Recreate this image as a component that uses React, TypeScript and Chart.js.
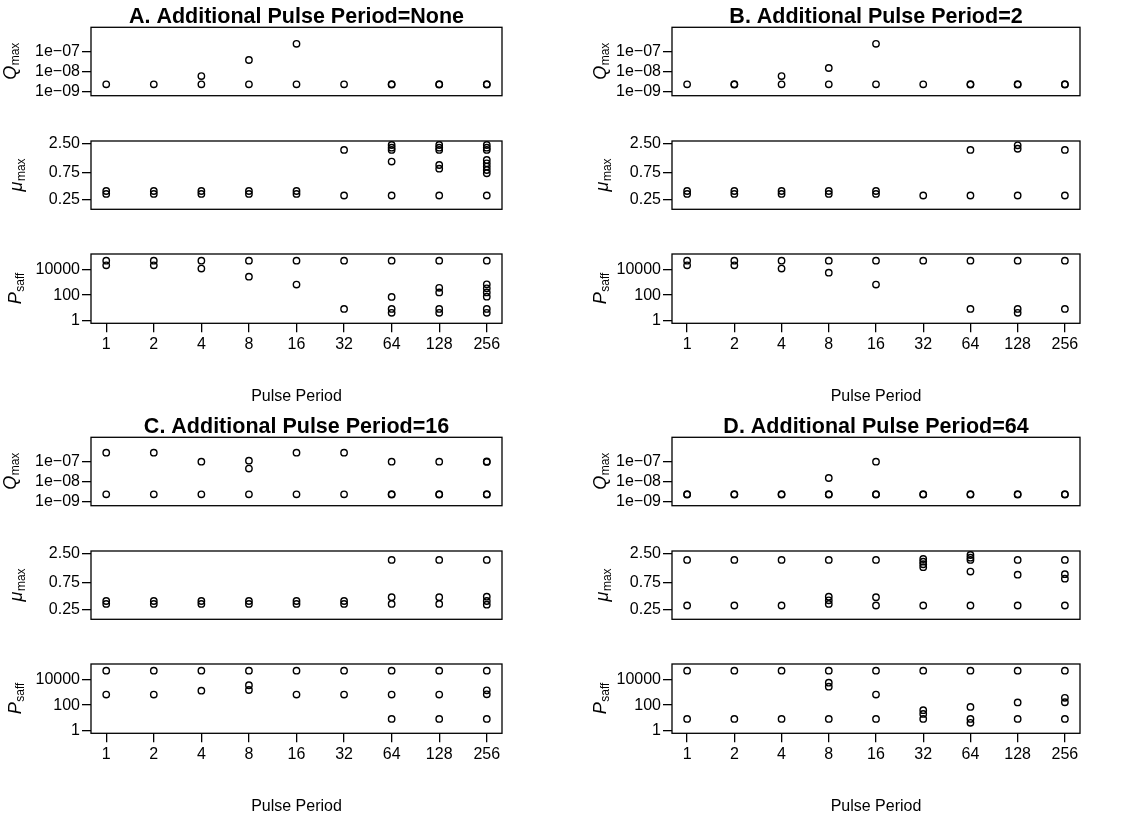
import React, { useEffect, useRef } from "react";
import { Chart, registerables } from "chart.js";

Chart.register(...registerables);

const FONT = "'Liberation Sans', Arial, Helvetica, sans-serif";

// ---- categories / ticks ----
const periods = [1, 2, 4, 8, 16, 32, 64, 128, 256];
const periodLabels = ["1", "2", "4", "8", "16", "32", "64", "128", "256"];
const qTicks = [1e-9, 1e-8, 1e-7];
const qTickLabels = ["1e\u221209", "1e\u221208", "1e\u221207"];
const muTicks = [0.25, 0.75, 2.5];
const muTickLabels = ["0.25", "0.75", "2.50"];
const pTicks = [1, 100, 10000];
const pTickLabels = ["1", "100", "10000"];
const panelTitles = [
  "A. Additional Pulse Period=None",
  "B. Additional Pulse Period=2",
  "C. Additional Pulse Period=16",
  "D. Additional Pulse Period=64",
];
const xTitle = "Pulse Period";

// ---- values (one list per pulse period) ----
const qA = [[2.25e-9], [2.25e-9], [2.25e-9, 5.9e-9], [2.25e-9, 3.8e-8], [2.25e-9, 2.5e-7], [2.25e-9], [2.2e-9, 2.3e-9], [2.2e-9, 2.3e-9], [2.2e-9, 2.3e-9]];
const qB = [[2.25e-9], [2.2e-9, 2.3e-9], [2.25e-9, 5.9e-9], [2.25e-9, 1.5e-8], [2.25e-9, 2.5e-7], [2.25e-9], [2.2e-9, 2.3e-9], [2.2e-9, 2.3e-9], [2.2e-9, 2.3e-9]];
const qC = [[2.25e-9, 2.85e-7], [2.25e-9, 2.85e-7], [2.25e-9, 1.0e-7], [2.25e-9, 4.5e-8, 1.12e-7], [2.25e-9, 2.85e-7], [2.25e-9, 2.85e-7], [2.2e-9, 2.3e-9, 1.0e-7], [2.2e-9, 2.3e-9, 1.0e-7], [2.2e-9, 2.3e-9, 0.97e-7, 1.03e-7]];
const qD = [[2.2e-9, 2.3e-9], [2.2e-9, 2.3e-9], [2.2e-9, 2.3e-9], [2.2e-9, 2.3e-9, 1.5e-8], [2.2e-9, 2.3e-9, 1.0e-7], [2.2e-9, 2.3e-9], [2.2e-9, 2.3e-9], [2.2e-9, 2.3e-9], [2.2e-9, 2.3e-9]];

const muA = [[0.32, 0.36], [0.32, 0.36], [0.32, 0.36], [0.32, 0.36], [0.32, 0.36], [0.3, 1.91], [0.3, 1.19, 1.91, 2.09, 2.33], [0.3, 0.893, 1.035, 1.91, 2.09, 2.33], [0.3, 0.74, 0.845, 0.97, 1.11, 1.27, 1.91, 2.09, 2.33]];
const muB = [[0.32, 0.36], [0.32, 0.36], [0.32, 0.36], [0.32, 0.36], [0.32, 0.36], [0.3], [0.3, 1.91], [0.3, 2.0, 2.3], [0.3, 1.91]];
const muC = [[0.32, 0.36], [0.32, 0.36], [0.32, 0.36], [0.32, 0.36], [0.32, 0.36], [0.32, 0.36], [0.32, 0.42, 1.91], [0.32, 0.42, 1.91], [0.31, 0.36, 0.43, 1.91]];
const muD = [[0.3, 1.91], [0.3, 1.91], [0.3, 1.91], [0.32, 0.37, 0.43, 1.91], [0.3, 0.42, 1.91], [0.3, 1.42, 1.6, 1.78, 1.98], [0.3, 1.19, 1.91, 2.09, 2.33], [0.3, 1.05, 1.91], [0.3, 0.89, 1.07, 1.91]];

const pA = [[23500, 55000], [23500, 55000], [12800, 55000], [2950, 55000], [685, 55000], [8, 55000], [3.9, 8, 72, 55000], [3.9, 8, 165, 380, 55000], [3.9, 8, 76, 165, 350, 725, 55000]];
const pB = [[23500, 55000], [23500, 55000], [12800, 55000], [6100, 55000], [685, 55000], [55000], [8, 55000], [3.9, 8, 55000], [8, 55000]];
const pC = [[685, 55000], [685, 55000], [1420, 55000], [1600, 3800, 55000], [685, 55000], [685, 55000], [8, 685, 55000], [8, 685, 55000], [8, 725, 1500, 55000]];
const pD = [[8, 55000], [8, 55000], [8, 55000], [8, 2950, 6100, 55000], [8, 685, 55000], [8, 20, 40, 55000], [3.9, 8, 72, 55000], [8, 165, 55000], [8, 170, 380, 55000]];

// ---- axis ranges ----
const qRange = [Math.pow(10, -9.22), Math.pow(10, -5.77)];
const muRange = [Math.pow(10, -0.766), Math.pow(10, 0.438)];
const pRange = [Math.pow(10, -0.24), Math.pow(10, 5.27)];
const xRange = [Math.pow(2, -0.32), Math.pow(2, 8.32)];

// ---- layout ----
const columns = [
  { colX: 0, colW: 565, boxL: 91, boxR: 502, ylabX: [16, 22, 21] },
  { colX: 565, colW: 564, boxL: 672, boxR: 1080, ylabX: [606, 608, 606] },
];
const rows = [
  { top: 27.3, h: 68.4 },
  { top: 141, h: 68.3 },
  { top: 254, h: 69.3 },
];
const HALF = 410;

type Metric = {
  vals: number[][];
  range: number[];
  ticks: number[];
  labels: string[];
  main: string;
  sub: string;
};

const decor = {
  id: "decor",
  afterDraw(chart: any, _args: any, opts: any) {
    const { ctx, chartArea: a } = chart;
    ctx.save();
    ctx.strokeStyle = "#000";
    ctx.lineWidth = 1.3;
    ctx.strokeRect(a.left, a.top, a.right - a.left, a.bottom - a.top);
    ctx.fillStyle = "#000";
    const cx = (a.left + a.right) / 2;
    if (opts.title) {
      ctx.font = `bold 21.5px ${FONT}`;
      ctx.textAlign = "center";
      ctx.textBaseline = "alphabetic";
      ctx.fillText(opts.title, cx, a.top - 4);
    }
    if (opts.xlab) {
      ctx.font = `16px ${FONT}`;
      ctx.textAlign = "center";
      ctx.textBaseline = "alphabetic";
      ctx.fillText(opts.xlab, cx, a.bottom + 78);
    }
    if (opts.main) {
      const cy = (a.top + a.bottom) / 2;
      ctx.translate(opts.ylabX, cy);
      ctx.rotate(-Math.PI / 2);
      ctx.textAlign = "left";
      ctx.textBaseline = "alphabetic";
      ctx.font = `italic 18px ${FONT}`;
      const w1 = ctx.measureText(opts.main).width;
      ctx.font = `12px ${FONT}`;
      const w2 = ctx.measureText(opts.sub).width;
      const x0 = -(w1 + w2) / 2;
      ctx.font = `italic 18px ${FONT}`;
      ctx.fillText(opts.main, x0, 0);
      ctx.font = `12px ${FONT}`;
      ctx.fillText(opts.sub, x0 + w1 + 0.5, 3);
    }
    ctx.restore();
  },
};

function Sub(props: { col: number; row: number; half: number; metric: Metric; title?: string; showX?: boolean }) {
  const ref = useRef<HTMLCanvasElement | null>(null);
  const c = columns[props.col];
  const r = rows[props.row];
  const padTop = 30;
  const padBottom = props.showX ? 90 : 12;
  const boxTop = r.top + props.half * HALF;
  const canvasTop = Math.round(boxTop - padTop);
  const xAxisH = 30;
  const canvasH = Math.round(boxTop + r.h + padBottom) - canvasTop;
  const canvasW = c.colW;
  const topPad = boxTop - canvasTop;

  useEffect(() => {
    const m = props.metric;
    const data: { x: number; y: number }[] = [];
    m.vals.forEach((list, i) => list.forEach((v) => data.push({ x: periods[i], y: v })));
    const xScale: any = {
      type: "logarithmic",
      display: !!props.showX,
      min: xRange[0],
      max: xRange[1],
      afterBuildTicks: (s: any) => {
        s.ticks = periods.map((v) => ({ value: v }));
      },
      grid: { drawOnChartArea: false, drawTicks: true, tickLength: 9, color: "#000", lineWidth: 1.3 },
      border: { display: false },
      ticks: {
        autoSkip: false,
        maxRotation: 0,
        color: "#000",
        font: { size: 16, family: FONT },
        padding: 3,
        callback: (_v: any, i: number) => periodLabels[i],
      },
    };
    if (props.showX) {
      xScale.afterFit = (s: any) => {
        s.height = xAxisH;
      };
    }
    const chart = new Chart(ref.current as HTMLCanvasElement, {
      type: "scatter",
      data: {
        datasets: [
          {
            data,
            pointStyle: "circle",
            pointRadius: 3.2,
            pointBorderWidth: 1.4,
            pointBackgroundColor: "rgba(0,0,0,0)",
            pointBorderColor: "#000",
            showLine: false,
          },
        ],
      },
      options: {
        animation: false,
        responsive: false,
        devicePixelRatio: 1,
        events: [],
        layout: {
          padding: {
            top: topPad,
            left: 0,
            right: c.colX + c.colW - c.boxR,
            bottom: props.showX ? canvasH - topPad - r.h - xAxisH : canvasH - topPad - r.h,
          },
        },
        plugins: {
          legend: { display: false },
          tooltip: { enabled: false },
          decor: {
            title: props.title,
            xlab: props.showX ? xTitle : undefined,
            main: m.main,
            sub: m.sub,
            ylabX: c.ylabX[props.row] - c.colX,
          },
        } as any,
        scales: {
          x: xScale,
          y: {
            type: "logarithmic",
            min: m.range[0],
            max: m.range[1],
            afterBuildTicks: (s: any) => {
              s.ticks = m.ticks.map((v) => ({ value: v }));
            },
            afterFit: (s: any) => {
              s.width = c.boxL - c.colX;
            },
            grid: { drawOnChartArea: false, drawTicks: true, tickLength: 9, color: "#000", lineWidth: 1.3 },
            border: { display: false },
            ticks: {
              autoSkip: false,
              color: "#000",
              font: { size: 16, family: FONT },
              padding: 2,
              callback: (_v: any, i: number) => m.labels[i],
            },
          },
        },
      } as any,
      plugins: [decor as any],
    });
    return () => chart.destroy();
  }, []);

  return (
    <canvas
      ref={ref}
      width={canvasW}
      height={canvasH}
      style={{ position: "absolute", left: c.colX, top: canvasTop, width: canvasW, height: canvasH }}
    />
  );
}

const panels = [
  { col: 0, half: 0, q: qA, mu: muA, p: pA },
  { col: 1, half: 0, q: qB, mu: muB, p: pB },
  { col: 0, half: 1, q: qC, mu: muC, p: pC },
  { col: 1, half: 1, q: qD, mu: muD, p: pD },
];

export default function App() {
  return (
    <div style={{ position: "absolute", left: 0, top: 0, width: 1129, height: 819, background: "#fff", overflow: "hidden" }}>
      {panels.map((pn, k) => (
        <React.Fragment key={k}>
          <Sub
            col={pn.col}
            row={0}
            half={pn.half}
            title={panelTitles[k]}
            metric={{ vals: pn.q, range: qRange, ticks: qTicks, labels: qTickLabels, main: "Q", sub: "max" }}
          />
          <Sub
            col={pn.col}
            row={1}
            half={pn.half}
            metric={{ vals: pn.mu, range: muRange, ticks: muTicks, labels: muTickLabels, main: "\u03bc", sub: "max" }}
          />
          <Sub
            col={pn.col}
            row={2}
            half={pn.half}
            showX
            metric={{ vals: pn.p, range: pRange, ticks: pTicks, labels: pTickLabels, main: "P", sub: "saff" }}
          />
        </React.Fragment>
      ))}
    </div>
  );
}
